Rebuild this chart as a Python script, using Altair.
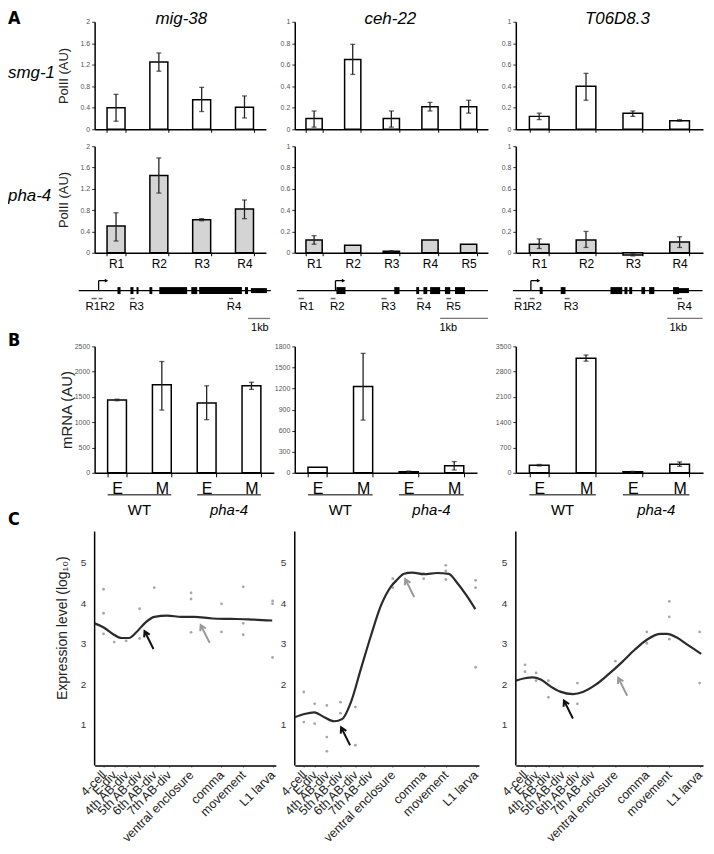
import altair as alt
import pandas as pd

FONT = "Liberation Sans, Arial, Helvetica, sans-serif"
BOLD_FONT = "Liberation Sans Narrow, DejaVu Sans Condensed, Liberation Sans, sans-serif"

GENES = ["mig-38", "ceh-22", "T06D8.3"]
ROW_LABELS = ["smg-1", "pha-4"]
PANEL_LETTERS = ["A", "B", "C"]

# ---------------- Panel A : PolII ChIP ----------------
MIG_REGIONS = ["R1", "R2", "R3", "R4"]
CEH_REGIONS = ["R1", "R2", "R3", "R4", "R5"]
T06_REGIONS = ["R1", "R2", "R3", "R4"]

SMG_MIG = [0.40, 1.25, 0.55, 0.41]
SMG_MIG_LO = [0.15, 1.08, 0.33, 0.21]
SMG_MIG_HI = [0.65, 1.42, 0.78, 0.62]
PHA_MIG = [0.50, 1.45, 0.62, 0.82]
PHA_MIG_LO = [0.22, 1.12, 0.60, 0.64]
PHA_MIG_HI = [0.75, 1.78, 0.64, 0.99]

SMG_CEH = [0.10, 0.65, 0.10, 0.21, 0.21]
SMG_CEH_LO = [0.02, 0.51, 0.02, 0.17, 0.15]
SMG_CEH_HI = [0.17, 0.79, 0.17, 0.25, 0.27]
PHA_CEH = [0.12, 0.07, 0.015, 0.12, 0.08]
PHA_CEH_LO = [0.08, None, 0.01, None, None]
PHA_CEH_HI = [0.16, None, 0.02, None, None]

SMG_T06 = [0.12, 0.40, 0.15, 0.08]
SMG_T06_LO = [0.09, 0.27, 0.12, 0.075]
SMG_T06_HI = [0.15, 0.52, 0.17, 0.09]
PHA_T06 = [0.08, 0.12, -0.02, 0.10]
PHA_T06_LO = [0.04, 0.05, -0.03, 0.05]
PHA_T06_HI = [0.13, 0.20, -0.01, 0.15]

MIG_TICKS = [0, 0.4, 0.8, 1.2, 1.6, 2]
UNIT_TICKS = [0, 0.2, 0.4, 0.6, 0.8, 1]

# ---------------- Gene models (kb from start of drawn line) ----------------
MIG_LINE_END = 8.77
MIG_TSS, MIG_TSS_END = 0.91, 1.27
MIG_EXON_START = [1.77, 2.36, 2.64, 3.23, 3.68, 5.14, 5.50, 7.59]
MIG_EXON_END = [1.91, 2.50, 2.73, 3.36, 4.95, 5.41, 7.45, 7.73]
MIG_UTR_START = [7.86]
MIG_UTR_END = [8.59]
MIG_R_START = [0.59, 0.91, 2.36, 6.86]
MIG_R_END = [0.82, 1.09, 2.55, 7.05]
MIG_R_LABEL_X = [0.64, 1.32, 2.64, 7.09]
MIG_SCALEBAR = [7.73, 8.73]
MIG_SCALE_TEXT_X = 8.27

CEH_LINE_END = 4.0
CEH_TSS, CEH_TSS_END = 0.81, 0.98
CEH_EXON_START = [0.83, 2.04, 2.50, 2.65, 2.79, 3.10, 3.31]
CEH_EXON_END = [1.02, 2.15, 2.56, 2.73, 3.00, 3.21, 3.52]
CEH_UTR_START = []
CEH_UTR_END = []
CEH_R_START = [0.04, 0.71, 1.77, 2.52, 3.13]
CEH_R_END = [0.15, 0.81, 1.88, 2.63, 3.23]
CEH_R_LABEL_X = [0.21, 0.85, 1.92, 2.66, 3.28]
CEH_SCALEBAR = [3.0, 4.0]
CEH_SCALE_TEXT_X = 3.17

T06_LINE_END = 5.15
T06_TSS, T06_TSS_END = 0.49, 0.70
T06_EXON_START = [0.73, 1.30, 2.65, 3.03, 3.16, 3.49, 3.70, 4.35]
T06_EXON_END = [0.81, 1.43, 2.97, 3.11, 3.24, 3.59, 3.84, 4.51]
T06_UTR_START = [4.51]
T06_UTR_END = [4.78]
T06_R_START = [0.08, 0.46, 1.41, 4.46]
T06_R_END = [0.22, 0.59, 1.54, 4.59]
T06_R_LABEL_X = [0.23, 0.59, 1.58, 4.66]
T06_SCALEBAR = [4.19, 5.15]
T06_SCALE_TEXT_X = 4.49
SCALE_LABEL = "1kb"

# ---------------- Panel B : mRNA ----------------
B_CATS = ["WT-E", "WT-M", "pha-E", "pha-M"]
B_GROUPS = ["WT", "pha-4"]
B_GROUP_FIRST = [0, 2]
B_GROUP_LAST = [1, 3]

MIG_MRNA = [1440, 1740, 1380, 1720]
MIG_MRNA_LO = [1425, 1240, 1050, 1650]
MIG_MRNA_HI = [1455, 2200, 1720, 1790]
CEH_MRNA = [80, 1230, 15, 100]
CEH_MRNA_LO = [None, 750, 5, 40]
CEH_MRNA_HI = [None, 1700, 25, 160]
T06_MRNA = [210, 3170, 30, 240]
T06_MRNA_LO = [190, 3090, 20, 180]
T06_MRNA_HI = [230, 3260, 40, 300]
MIG_MRNA_TICKS = [0, 500, 1000, 1500, 2000, 2500]
CEH_MRNA_TICKS = [0, 300, 600, 900, 1200, 1500, 1800]
T06_MRNA_TICKS = [0, 700, 1400, 2100, 2800, 3500]

# ---------------- Panel C : expression time course ----------------
STAGES = ["4-cell", "E-div", "4th AB-div", "5th AB-div", "6th AB-div", "7th AB-div",
          "ventral enclosure", "comma", "movement", "L1 larva"]
STAGE_POS = [0.049, 0.108, 0.174, 0.248, 0.329, 0.41, 0.532, 0.70, 0.82, 0.982]

MIG_DOTS = [[4.34, 3.75, 3.24], [3.04], [3.07], [3.86, 3.13], [4.38], [],
            [4.25, 4.10, 3.28], [3.98, 3.29], [4.40, 3.50, 3.22], [4.05, 3.98, 2.66]]
CEH_DOTS = [[1.81, 1.07], [1.52, 1.03], [1.48, 0.70, 0.35], [1.56, 1.29], [1.44, 0.50], [],
            [4.60, 4.38], [4.73, 4.60], [4.93, 4.79, 4.58], [4.56, 4.38, 2.42]]
T06_DOTS = [[2.48, 2.31], [2.28, 2.09], [2.09, 1.68], [], [2.03, 1.52], [],
            [2.57], [3.29, 3.01], [4.04, 3.66, 3.11], [3.29, 2.03]]

MIG_CURVE_X = [0.0, 0.05, 0.10, 0.15, 0.19, 0.23, 0.28, 0.33, 0.40, 0.48, 0.55, 0.65, 0.75, 0.85, 0.98]
MIG_CURVE_Y = [3.50, 3.40, 3.24, 3.14, 3.14, 3.28, 3.52, 3.66, 3.69, 3.66, 3.66, 3.62, 3.61, 3.60, 3.57]
CEH_CURVE_X = [0.0, 0.052, 0.106, 0.16, 0.214, 0.259, 0.305, 0.359, 0.413, 0.467, 0.521, 0.557,
               0.593, 0.638, 0.701, 0.773, 0.836, 0.881, 0.935, 0.98]
CEH_CURVE_Y = [1.19, 1.27, 1.31, 1.19, 1.09, 1.15, 1.56, 2.38, 3.19, 3.93, 4.40, 4.58,
               4.72, 4.75, 4.71, 4.74, 4.72, 4.50, 4.17, 3.85]
T06_CURVE_X = [0.0, 0.048, 0.09, 0.133, 0.185, 0.237, 0.306, 0.358, 0.427, 0.496, 0.566, 0.635,
               0.704, 0.773, 0.808, 0.86, 0.912, 0.99]
T06_CURVE_Y = [2.09, 2.15, 2.17, 2.12, 1.95, 1.82, 1.76, 1.81, 1.99, 2.25, 2.54, 2.85,
               3.11, 3.24, 3.24, 3.15, 2.99, 2.75]

ARROW_KIND = ["black", "gray"]
MIG_ARROW_X = [0.30, 0.61]
MIG_ARROW_Y = [3.09, 3.24]
CEH_ARROW_X = [0.276, 0.624]
CEH_ARROW_Y = [0.72, 4.37]
T06_ARROW_X = [0.281, 0.571]
T06_ARROW_Y = [1.38, 1.94]

C_YMAX = 6.79
C_AXIS_TOP = 5.76
C_YTICKS = [1, 2, 3, 4, 5]

ARROW_PATH = "M0.5,1L-0.5,-1M-0.54,-0.3L-0.5,-1L0.08,-0.61"

# ---------------- layout (px) ----------------
COL_W = [182, 203, 188]
A_W = [172, 194, 188]
B_W = [180, 183, 188]
C_W = [182, 185, 188]
A_H = [108, 107]
G_H = 60
B_H = 127
C_H = 277
COL_PAGE_X = [95, 296, 518]
GENE_PX_PER_KB = [22, 48, 37]
GENE_LINE_PAGE_X = [79, 298, 515]
TITLE_X = [87, 96, 102]
LEFT = -87


def text_layer(label, x, y, size, style="normal", weight="normal", align="left",
               baseline="top", font=FONT, color="black"):
    return alt.Chart(pd.DataFrame({"t": [label]})).mark_text(
        font=font, fontSize=size, fontStyle=style, fontWeight=weight,
        align=align, baseline=baseline, color=color
    ).encode(x=alt.value(x), y=alt.value(y), text="t:N")


def y_axis(values, fmt, title=None, title_x=-31, title_size=13):
    kw = dict(values=values, format=fmt, labelFont=FONT, labelFontSize=7, labelColor="#555",
              labelPadding=2, tickSize=3, tickColor="#333", domainColor="black",
              domainWidth=1.5, grid=False, labelOverlap=False)
    if title:
        kw.update(title=title, titleX=title_x, titleBaseline="middle", titleFont=FONT,
                  titleFontSize=title_size, titleFontWeight="normal", titleColor="#222")
    else:
        kw["title"] = None
    return alt.Axis(**kw)


def bar_layers(cats, vals, lo, hi, ymax, yaxis, fill, xaxis):
    df = pd.DataFrame({"cat": cats, "value": vals})
    edf = pd.DataFrame({"cat": cats, "lo": lo, "hi": hi}).dropna()
    xs = alt.Scale(domain=cats, paddingInner=0.58, paddingOuter=0.29)
    ys = alt.Scale(domain=[0, ymax], nice=False, zero=True)

    def X():
        return alt.X("cat:N", scale=xs, sort=cats, axis=xaxis)

    bars = alt.Chart(df).mark_bar(fill=fill, stroke="black", strokeWidth=1.5).encode(
        x=X(), y=alt.Y("value:Q", scale=ys, axis=yaxis))
    rule = alt.Chart(edf).mark_rule(color="#222", strokeWidth=1.3).encode(
        x=X(), y=alt.Y("lo:Q", scale=ys, axis=yaxis), y2="hi:Q")
    cap_lo = alt.Chart(edf).mark_tick(color="#222", thickness=1.3, size=5).encode(
        x=X(), y=alt.Y("lo:Q", scale=ys, axis=yaxis))
    cap_hi = alt.Chart(edf).mark_tick(color="#222", thickness=1.3, size=5).encode(
        x=X(), y=alt.Y("hi:Q", scale=ys, axis=yaxis))
    return [bars, rule, cap_lo, cap_hi]


def a_panel(regions, vals, lo, hi, ymax, yticks, width, height, fill, show_labels, extras, ytitle=None):
    xaxis = alt.Axis(title=None, labels=show_labels, labelAngle=0, labelFont=FONT, labelFontSize=12,
                     labelColor="black", labelPadding=3, tickBand="extent", tickSize=3,
                     tickColor="black", domainColor="black", domainWidth=1.5, grid=False,
                     labelOverlap=False)
    layers = bar_layers(regions, vals, lo, hi, ymax, y_axis(yticks, "~g", ytitle), fill, xaxis)
    return alt.layer(*layers, *extras).properties(width=width, height=height)


def b_panel(vals, lo, hi, yticks, width, height, extras, ytitle=None):
    xaxis = alt.Axis(title=None, labelExpr="split(datum.label, '-')[1]", labelAngle=0, labelFont=FONT,
                     labelFontSize=16, labelColor="black", labelPadding=4, tickBand="extent",
                     tickSize=4, tickColor="black", domainColor="black", domainWidth=1.5,
                     grid=False, labelOverlap=False)
    inner = alt.layer(*bar_layers(B_CATS, vals, lo, hi, yticks[-1],
                                  y_axis(yticks, "d", ytitle, -28, 15), "white", xaxis))
    gx = alt.Scale(domain=[0, len(B_CATS)], nice=False, zero=False)
    gdf = pd.DataFrame({
        "g": B_GROUPS,
        "s": [f + 0.29 for f in B_GROUP_FIRST],
        "e": [l + 0.71 for l in B_GROUP_LAST],
        "c": [(f + l + 1) / 2 for f, l in zip(B_GROUP_FIRST, B_GROUP_LAST)],
    })
    ul = alt.Chart(gdf).mark_rule(color="#555", strokeWidth=1.5).encode(
        x=alt.X("s:Q", scale=gx, axis=None), x2="e:Q", y=alt.value(height + 22))
    wt = alt.Chart(gdf.iloc[[0]]).mark_text(font=FONT, fontSize=15, baseline="middle").encode(
        x=alt.X("c:Q", scale=gx, axis=None), y=alt.value(height + 37), text="g:N")
    ph = alt.Chart(gdf.iloc[[1]]).mark_text(font=FONT, fontSize=15, fontStyle="italic",
                                             baseline="middle").encode(
        x=alt.X("c:Q", scale=gx, axis=None), y=alt.value(height + 37), text="g:N")
    return alt.layer(inner, ul, wt, ph, *extras).resolve_scale(x="independent").properties(
        width=width, height=height)


def gene_panel(i, line_end, tss, tss_end, ex_s, ex_e, utr_s, utr_e, r_s, r_e, r_lab_x,
               regions, sbar, sb_text_x):
    pxk = GENE_PX_PER_KB[i]
    d0 = (COL_PAGE_X[i] - GENE_LINE_PAGE_X[i]) / pxk
    d1 = d0 + COL_W[i] / pxk
    xs = alt.Scale(domain=[d0, d1], nice=False, zero=False)

    def X(f):
        return alt.X(f, scale=xs, axis=None)

    layers = []
    layers.append(alt.Chart(pd.DataFrame({"s": [0.0], "e": [line_end]})).mark_rule(
        color="black", strokeWidth=1.3).encode(x=X("s:Q"), x2="e:Q", y=alt.value(21)))
    tdf = pd.DataFrame({"t": [tss], "te": [tss_end]})
    layers.append(alt.Chart(tdf).mark_rule(color="black", strokeWidth=1.3).encode(
        x=X("t:Q"), y=alt.value(21), y2=alt.value(11)))
    layers.append(alt.Chart(tdf).mark_rule(color="black", strokeWidth=1.3).encode(
        x=X("t:Q"), x2="te:Q", y=alt.value(11)))
    layers.append(alt.Chart(tdf).mark_point(shape="triangle-right", filled=True, size=16,
                                            color="black", opacity=1).encode(
        x=X("te:Q"), y=alt.value(11)))
    layers.append(alt.Chart(pd.DataFrame({"s": ex_s, "e": ex_e})).mark_rect(color="black").encode(
        x=X("s:Q"), x2="e:Q", y=alt.value(17.5), y2=alt.value(24.5)))
    if utr_s:
        layers.append(alt.Chart(pd.DataFrame({"s": utr_s, "e": utr_e})).mark_rect(color="black").encode(
            x=X("s:Q"), x2="e:Q", y=alt.value(18.5), y2=alt.value(23.5)))
    layers.append(alt.Chart(pd.DataFrame({"s": r_s, "e": r_e})).mark_rule(
        color="#666", strokeWidth=1.5).encode(x=X("s:Q"), x2="e:Q", y=alt.value(29)))
    layers.append(alt.Chart(pd.DataFrame({"x": r_lab_x, "lab": regions})).mark_text(
        font=FONT, fontSize=11.5, baseline="middle", align="center").encode(
        x=X("x:Q"), y=alt.value(37.5), text="lab:N"))
    layers.append(alt.Chart(pd.DataFrame({"s": [sbar[0]], "e": [sbar[1]]})).mark_rule(
        color="#777", strokeWidth=1.3).encode(x=X("s:Q"), x2="e:Q", y=alt.value(49)))
    layers.append(alt.Chart(pd.DataFrame({"x": [sb_text_x], "t": [SCALE_LABEL]})).mark_text(
        font=FONT, fontSize=11, baseline="middle", align="center").encode(
        x=X("x:Q"), y=alt.value(58.5), text="t:N"))
    return alt.layer(*layers).properties(width=COL_W[i], height=G_H)


def c_panel(curve_x, curve_y, dots, arrow_x, arrow_y, width, extras, ytitle=None):
    xs = alt.Scale(domain=[0, 1], nice=False, zero=False)
    ys = alt.Scale(domain=[0, C_YMAX], nice=False, zero=True)
    label_expr = ("[" + ",".join("'" + s + "'" for s in STAGES) + "][indexof(["
                  + ",".join(str(p) for p in STAGE_POS) + "], datum.value)]")
    xaxis = alt.Axis(values=STAGE_POS, labelExpr=label_expr, labelAngle=315, labelAlign="right",
                     labelBaseline="middle", labelFont=FONT, labelFontSize=12.5, labelColor="#222",
                     labelPadding=5, labelOverlap=False, labelFlush=False, tickSize=2,
                     tickColor="#aaa", domainColor="black", domainWidth=1.5, grid=False, title=None)
    ykw = dict(values=C_YTICKS, format="d", labelFont=FONT, labelFontSize=10, labelColor="#333",
               labelPadding=9, ticks=False, domain=False, grid=False, labelOverlap=False)
    if ytitle:
        ykw.update(title=ytitle, titleX=-32, titleBaseline="middle", titleFont=FONT,
                   titleFontSize=14, titleFontWeight="normal", titleColor="#222")
    else:
        ykw["title"] = None
    yaxis = alt.Axis(**ykw)
    rows = []
    for si, vals in enumerate(dots):
        for v in vals:
            rows.append({"x": STAGE_POS[si], "y": v})
    ddf = pd.DataFrame(rows)
    cdf = pd.DataFrame({"x": curve_x, "y": curve_y})
    adf = pd.DataFrame({"x": arrow_x, "y": arrow_y, "kind": ARROW_KIND})

    def X():
        return alt.X("x:Q", scale=xs, axis=xaxis)

    def Y(f="y:Q"):
        return alt.Y(f, scale=ys, axis=yaxis)

    axis_line = alt.Chart(pd.DataFrame({"y0": [0.0], "y1": [C_AXIS_TOP]})).mark_rule(
        color="black", strokeWidth=1.5).encode(x=alt.value(0), y=Y("y0:Q"), y2="y1:Q")
    pts = alt.Chart(ddf).mark_circle(size=8, color="#a8a8a8", opacity=1).encode(x=X(), y=Y())
    curve = alt.Chart(cdf).mark_line(interpolate="monotone", color="#2b2b2b", strokeWidth=2.2).encode(
        x=X(), y=Y())
    arrows = alt.Chart(adf).mark_point(shape=ARROW_PATH, filled=False, size=324, strokeWidth=2,
                                       opacity=1).encode(
        x=X(), y=Y(),
        color=alt.Color("kind:N", scale=alt.Scale(domain=ARROW_KIND, range=["#111111", "#999999"]),
                        legend=None))
    return alt.layer(pts, axis_line, curve, arrows, *extras).properties(width=width, height=C_H)


# ---------------- build cells ----------------
a1 = [
    a_panel(MIG_REGIONS, SMG_MIG, SMG_MIG_LO, SMG_MIG_HI, 2, MIG_TICKS, A_W[0], A_H[0], "white", False,
            [text_layer(PANEL_LETTERS[0], LEFT, -12, 18, weight="bold", font=BOLD_FONT),
             text_layer(GENES[0], TITLE_X[0], -11, 17, style="italic", align="center"),
             text_layer(ROW_LABELS[0], LEFT, 52, 17, style="italic", baseline="middle")],
            ytitle="PolII (AU)"),
    a_panel(CEH_REGIONS, SMG_CEH, SMG_CEH_LO, SMG_CEH_HI, 1, UNIT_TICKS, A_W[1], A_H[0], "white", False,
            [text_layer(GENES[1], TITLE_X[1], -11, 17, style="italic", align="center")]),
    a_panel(T06_REGIONS, SMG_T06, SMG_T06_LO, SMG_T06_HI, 1, UNIT_TICKS, A_W[2], A_H[0], "white", False,
            [text_layer(GENES[2], TITLE_X[2], -11, 17, style="italic", align="center")]),
]
a2 = [
    a_panel(MIG_REGIONS, PHA_MIG, PHA_MIG_LO, PHA_MIG_HI, 2, MIG_TICKS, A_W[0], A_H[1], "#d4d4d4", True,
            [text_layer(ROW_LABELS[1], LEFT, 50, 17, style="italic", baseline="middle")],
            ytitle="PolII (AU)"),
    a_panel(CEH_REGIONS, PHA_CEH, PHA_CEH_LO, PHA_CEH_HI, 1, UNIT_TICKS, A_W[1], A_H[1], "#d4d4d4", True, []),
    a_panel(T06_REGIONS, PHA_T06, PHA_T06_LO, PHA_T06_HI, 1, UNIT_TICKS, A_W[2], A_H[1], "#d4d4d4", True, []),
]
genes = [
    gene_panel(0, MIG_LINE_END, MIG_TSS, MIG_TSS_END, MIG_EXON_START, MIG_EXON_END, MIG_UTR_START,
               MIG_UTR_END, MIG_R_START, MIG_R_END, MIG_R_LABEL_X, MIG_REGIONS, MIG_SCALEBAR, MIG_SCALE_TEXT_X),
    gene_panel(1, CEH_LINE_END, CEH_TSS, CEH_TSS_END, CEH_EXON_START, CEH_EXON_END, CEH_UTR_START,
               CEH_UTR_END, CEH_R_START, CEH_R_END, CEH_R_LABEL_X, CEH_REGIONS, CEH_SCALEBAR, CEH_SCALE_TEXT_X),
    gene_panel(2, T06_LINE_END, T06_TSS, T06_TSS_END, T06_EXON_START, T06_EXON_END, T06_UTR_START,
               T06_UTR_END, T06_R_START, T06_R_END, T06_R_LABEL_X, T06_REGIONS, T06_SCALEBAR, T06_SCALE_TEXT_X),
]
bs = [
    b_panel(MIG_MRNA, MIG_MRNA_LO, MIG_MRNA_HI, MIG_MRNA_TICKS, B_W[0], B_H,
            [text_layer(PANEL_LETTERS[1], LEFT, -14, 18, weight="bold", font=BOLD_FONT)],
            ytitle="mRNA (AU)"),
    b_panel(CEH_MRNA, CEH_MRNA_LO, CEH_MRNA_HI, CEH_MRNA_TICKS, B_W[1], B_H, []),
    b_panel(T06_MRNA, T06_MRNA_LO, T06_MRNA_HI, T06_MRNA_TICKS, B_W[2], B_H, []),
]
cs = [
    c_panel(MIG_CURVE_X, MIG_CURVE_Y, MIG_DOTS, MIG_ARROW_X, MIG_ARROW_Y, C_W[0],
            [text_layer(PANEL_LETTERS[2], LEFT, 21, 18, weight="bold", font=BOLD_FONT)],
            ytitle="Expression level (log\u2081\u2080)"),
    c_panel(CEH_CURVE_X, CEH_CURVE_Y, CEH_DOTS, CEH_ARROW_X, CEH_ARROW_Y, C_W[1], []),
    c_panel(T06_CURVE_X, T06_CURVE_Y, T06_DOTS, T06_ARROW_X, T06_ARROW_Y, C_W[2], []),
]

cells = a1 + a2 + genes + bs + cs

chart = alt.concat(
    *cells, columns=3, spacing={"row": 17, "column": 19}, bounds="flush", align="each", padding=0
).configure_view(stroke=None).configure_axis(labelOverlap=False, labelFlush=False)

chart.save("out.html", embed_options={"renderer": "svg", "actions": False})
